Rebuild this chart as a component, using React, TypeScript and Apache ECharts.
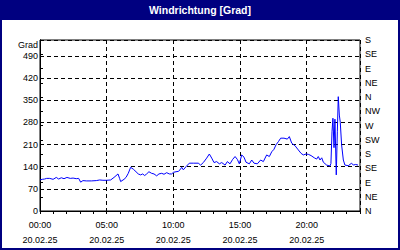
import React, { useEffect, useRef } from "react";
import * as echarts from "echarts";

const titleText = "Windrichtung [Grad]";
const unitText = "Grad";
const dayLabel = "20.02.25";
const leftTicks = [0, 70, 140, 210, 280, 350, 420, 490];
const compassLabels = ["N", "NE", "E", "SE", "S", "SW", "W", "NW", "N", "NE", "E", "SE", "S"];

const hours = [
  0.0, 0.17, 0.35, 0.5, 0.73, 0.98, 1.22, 1.4, 1.6, 1.8, 2.02, 2.27, 2.48, 2.72, 2.9, 3.05,
  3.22, 3.47, 3.85, 4.22, 4.48, 4.72, 5.0, 5.3, 5.55, 5.85, 5.97, 6.05, 6.3, 6.45, 6.62, 6.8,
  7.0, 7.2, 7.37, 7.55, 7.7, 7.85, 8.0, 8.17, 8.37, 8.55, 8.75, 8.92, 9.13, 9.3, 9.5, 9.7,
  9.88, 10.0, 10.2, 10.37, 10.5, 10.63, 10.75, 10.95, 11.2, 11.5, 11.87, 12.05, 12.25, 12.5,
  12.7, 12.88, 13.05, 13.25, 13.45, 13.63, 13.88, 14.05, 14.25, 14.45, 14.63, 14.8, 14.95,
  15.13, 15.3, 15.45, 15.7, 15.88, 16.05, 16.3, 16.55, 16.75, 17.0, 17.2, 17.38, 17.55, 17.7,
  17.88, 18.05, 18.3, 18.55, 18.7, 18.88, 19.13, 19.37, 19.58, 19.75, 19.95, 20.12, 20.33,
  20.57, 20.75, 20.87, 21.0, 21.13, 21.25, 21.5, 21.75, 21.82, 21.9, 21.97, 22.05, 22.12,
  22.22, 22.3, 22.37, 22.45, 22.52, 22.62, 22.75, 22.87, 23.12, 23.37, 23.5, 23.67, 23.85,
];

const degrees = [
  98, 100, 101, 103, 103, 100, 106, 101, 105, 102, 106, 103, 104, 102, 103, 91,
  96, 95, 95, 96, 98, 97, 97, 98, 106, 117, 103, 93, 100, 106, 119, 138,
  132, 124, 117, 114, 117, 112, 117, 124, 119, 117, 111, 117, 119, 116, 121, 117,
  117, 122, 124, 125, 130, 138, 130, 140, 151, 151, 151, 145, 153, 167,
  180, 167, 153, 156, 149, 153, 145, 156, 149, 163, 172, 163, 149,
  177, 170, 154, 149, 161, 151, 149, 161, 156, 177, 172, 187, 195, 209,
  219, 230, 230, 227, 235, 214, 206, 193, 182, 177, 180, 179, 175,
  168, 164, 172, 161, 168, 154, 145, 142, 150, 250, 293, 200, 290,
  114, 250, 361, 303, 280, 209, 161, 145, 143, 151, 145, 147, 145,
];

const FONT = "'Liberation Sans', Arial, sans-serif";
const TEXT = "#000000";

export default function App() {
  const ref = useRef<HTMLDivElement>(null);

  useEffect(() => {
    if (!ref.current) return;
    const chart = echarts.init(ref.current, null, { renderer: "svg" });
    const data = hours.map((h, i) => [h, degrees[i]]);
    chart.setOption({
      animation: false,
      backgroundColor: "#000080",
      textStyle: { fontFamily: FONT },
      graphic: [
        {
          type: "rect",
          z: -10,
          silent: true,
          shape: { x: 2, y: 20, width: 396, height: 228 },
          style: { fill: "#ffffff" },
        },
        {
          type: "text",
          x: 200,
          y: 10,
          style: {
            text: titleText,
            fill: "#ffffff",
            font: `bold 10.5px ${FONT}`,
            textAlign: "center",
            textVerticalAlign: "middle",
          },
        },
        {
          type: "text",
          x: 38,
          y: 45,
          style: {
            text: unitText,
            fill: TEXT,
            font: `9px ${FONT}`,
            textAlign: "right",
            textVerticalAlign: "middle",
          },
        },
      ],
      grid: {
        left: 40,
        right: 40,
        top: 40,
        bottom: 39,
        show: true,
        backgroundColor: "#ffffff",
        borderColor: "#000000",
        borderWidth: 1,
      },
      xAxis: [
        {
          type: "value",
          min: 0,
          max: 24,
          interval: 5,
          axisLine: { show: true, lineStyle: { color: "#000", width: 1 } },
          axisTick: { show: false },
          axisLabel: {
            color: TEXT,
            fontSize: 9,
            fontFamily: FONT,
            lineHeight: 15,
            margin: 6,
            formatter: (v: number) =>
              v >= 24 ? "" : `${String(v).padStart(2, "0")}:00\n${dayLabel}`,
          },
          splitLine: {
            show: true,
            lineStyle: { color: "#000", type: [4, 3], width: 1 },
          },
        },
        {
          type: "value",
          min: 0,
          max: 24,
          interval: 1,
          position: "bottom",
          axisLine: { show: false },
          axisTick: { show: true, inside: false, length: 3, lineStyle: { color: "#000" } },
          axisLabel: { show: false },
          splitLine: { show: false },
        },
      ],
      yAxis: [
        {
          type: "value",
          min: 0,
          max: 540,
          interval: 70,
          position: "left",
          axisLine: { show: true, lineStyle: { color: "#000" } },
          axisTick: { show: false },
          axisLabel: {
            color: TEXT,
            fontSize: 9,
            fontFamily: FONT,
            margin: 2,
            formatter: (v: number) => (leftTicks.includes(v) ? String(v) : ""),
          },
          splitLine: {
            show: true,
            lineStyle: { color: "#000", type: [4, 3], width: 1 },
          },
        },
        {
          type: "value",
          min: 0,
          max: 540,
          interval: 45,
          position: "right",
          axisLine: { show: true, lineStyle: { color: "#000" } },
          axisTick: { show: true, inside: false, length: 3, lineStyle: { color: "#000" } },
          axisLabel: {
            color: TEXT,
            fontSize: 9,
            fontFamily: FONT,
            margin: 5,
            formatter: (v: number) => compassLabels[Math.round(v / 45)] ?? "",
          },
          splitLine: { show: false },
        },
      ],
      series: [
        {
          type: "line",
          xAxisIndex: 0,
          yAxisIndex: 0,
          data,
          showSymbol: false,
          symbol: "none",
          lineStyle: { color: "#0000ff", width: 1 },
          z: 5,
        },
      ],
    });
    return () => chart.dispose();
  }, []);

  return (
    <div
      ref={ref}
      style={{ position: "fixed", left: 0, top: 0, width: 400, height: 250 }}
    />
  );
}
